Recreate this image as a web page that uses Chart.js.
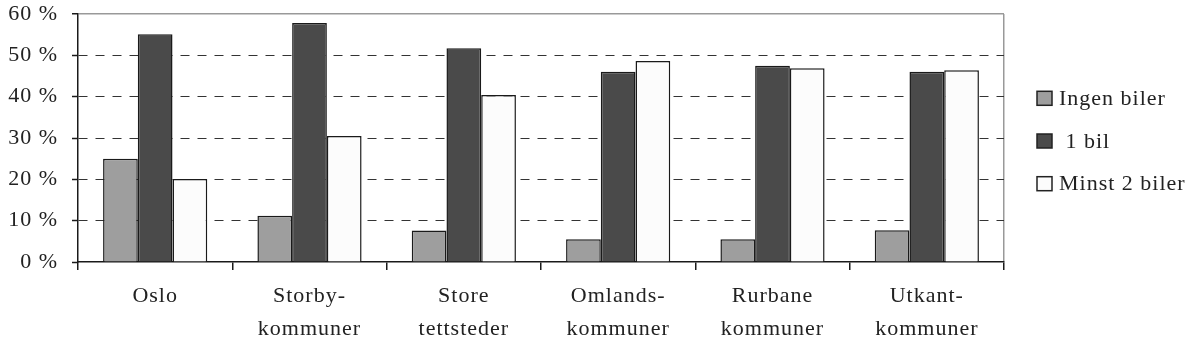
<!DOCTYPE html>
<html>
<head>
<meta charset="utf-8">
<script src="https://cdn.jsdelivr.net/npm/chart.js@4.4.1/dist/chart.umd.min.js"></script>
<style>
  html, body { margin: 0; padding: 0; background: #fff; }
  canvas { display: block; }
</style>
</head>
<body>
<canvas id="c" width="1192" height="346"></canvas>
<script>
const categories = [
  ['Oslo'],
  ['Storby-', 'kommuner'],
  ['Store', 'tettsteder'],
  ['Omlands-', 'kommuner'],
  ['Rurbane', 'kommuner'],
  ['Utkant-', 'kommuner']
];
const seriesNames = ['Ingen biler', ' 1 bil', 'Minst 2 biler'];
const ingenBiler = [25.0, 11.2, 7.6, 5.5, 5.5, 7.7];
const enBil = [55.1, 57.8, 51.7, 46.0, 47.5, 46.0];
const minst2Biler = [20.1, 30.5, 40.4, 48.6, 46.9, 46.4];
const seriesColors = ['#9e9e9e', '#4a4a4a', '#fcfcfc'];
const yTickValues = [0, 10, 20, 30, 40, 50, 60];
const yTickLabels = ['0 %', '10 %', '20 %', '30 %', '40 %', '50 %', '60 %'];

const FONT = 'Liberation Serif';
const FONT_SIZE = 22;
const SPACING = '1px';

const spacingPlugin = {
  id: 'spacing',
  beforeUpdate(chart) { chart.ctx.letterSpacing = SPACING; },
  beforeDraw(chart) { chart.ctx.letterSpacing = SPACING; }
};

const legendPlugin = {
  id: 'sideLegend',
  afterDraw(chart) {
    const ctx = chart.ctx;
    const area = chart.chartArea;
    const x = area.right + 33;
    const rowGap = 42.7;
    const mid = (area.top + area.bottom) / 2 + 3;
    const n = chart.data.datasets.length;
    ctx.save();
    ctx.letterSpacing = SPACING;
    ctx.font = FONT_SIZE + 'px "' + FONT + '"';
    ctx.textBaseline = 'middle';
    ctx.textAlign = 'left';
    chart.data.datasets.forEach((ds, i) => {
      const cy = mid + (i - (n - 1) / 2) * rowGap;
      ctx.fillStyle = ds.backgroundColor;
      ctx.fillRect(x, cy - 7, 15, 14);
      ctx.lineWidth = 1.5;
      ctx.strokeStyle = '#222';
      ctx.strokeRect(x, cy - 7, 15, 14);
      ctx.fillStyle = '#222';
      ctx.fillText(ds.label, x + 22, cy + 1);
    });
    ctx.restore();
  }
};

new Chart(document.getElementById('c'), {
  type: 'bar',
  data: {
    labels: categories,
    datasets: [
      { label: seriesNames[0], data: ingenBiler, backgroundColor: seriesColors[0] },
      { label: seriesNames[1], data: enBil, backgroundColor: seriesColors[1] },
      { label: seriesNames[2], data: minst2Biler, backgroundColor: seriesColors[2] }
    ]
  },
  options: {
    responsive: false,
    animation: false,
    devicePixelRatio: 1,
    layout: { autoPadding: false, padding: { top: 14, right: 188, left: 0, bottom: 0 } },
    datasets: {
      bar: {
        borderColor: '#1a1a1a',
        borderWidth: 1.5,
        barPercentage: 1.0,
        categoryPercentage: 0.675
      }
    },
    plugins: {
      legend: { display: false },
      tooltip: { enabled: false }
    },
    scales: {
      x: {
        offset: true,
        grid: {
          offset: true,
          drawOnChartArea: true,
          color: c => (c.index === undefined ? '#999999' : 'rgba(0,0,0,0)'),
          lineWidth: 1.5,
          tickColor: '#1a1a1a',
          tickLength: 8,
          tickWidth: 1.5
        },
        border: { color: '#1a1a1a', width: 1.5 },
        ticks: {
          color: '#222',
          padding: 10,
          maxRotation: 0,
          autoSkip: false,
          font: { family: FONT, size: FONT_SIZE, lineHeight: 1.5 }
        },
        afterFit: s => { s.height = 84; s.paddingLeft = 0; s.paddingRight = 0; }
      },
      y: {
        min: 0,
        max: 60,
        afterBuildTicks: s => { s.ticks = yTickValues.map(v => ({ value: v })); },
        grid: {
          color: c => {
            if (!c.tick) return '#333';
            if (c.tick.value === 60) return '#999999';
            if (c.tick.value === 0) return 'rgba(0,0,0,0)';
            return '#333333';
          },
          lineWidth: c => (c.tick && c.tick.value === 60 ? 1.5 : 1),
          tickColor: '#1a1a1a',
          tickLength: 6,
          tickWidth: 1.5
        },
        border: {
          color: '#1a1a1a',
          width: 1.5,
          dash: c => (c.tick && c.tick.value !== 60 && c.tick.value !== 0 ? [9, 8] : [])
        },
        ticks: {
          color: '#222',
          padding: 14,
          font: { family: FONT, size: FONT_SIZE },
          callback: (v) => yTickLabels[yTickValues.indexOf(v)]
        },
        afterFit: s => { s.width = 78; s.paddingTop = 0; s.paddingBottom = 0; }
      }
    }
  },
  plugins: [spacingPlugin, legendPlugin]
});
</script>
</body>
</html>
